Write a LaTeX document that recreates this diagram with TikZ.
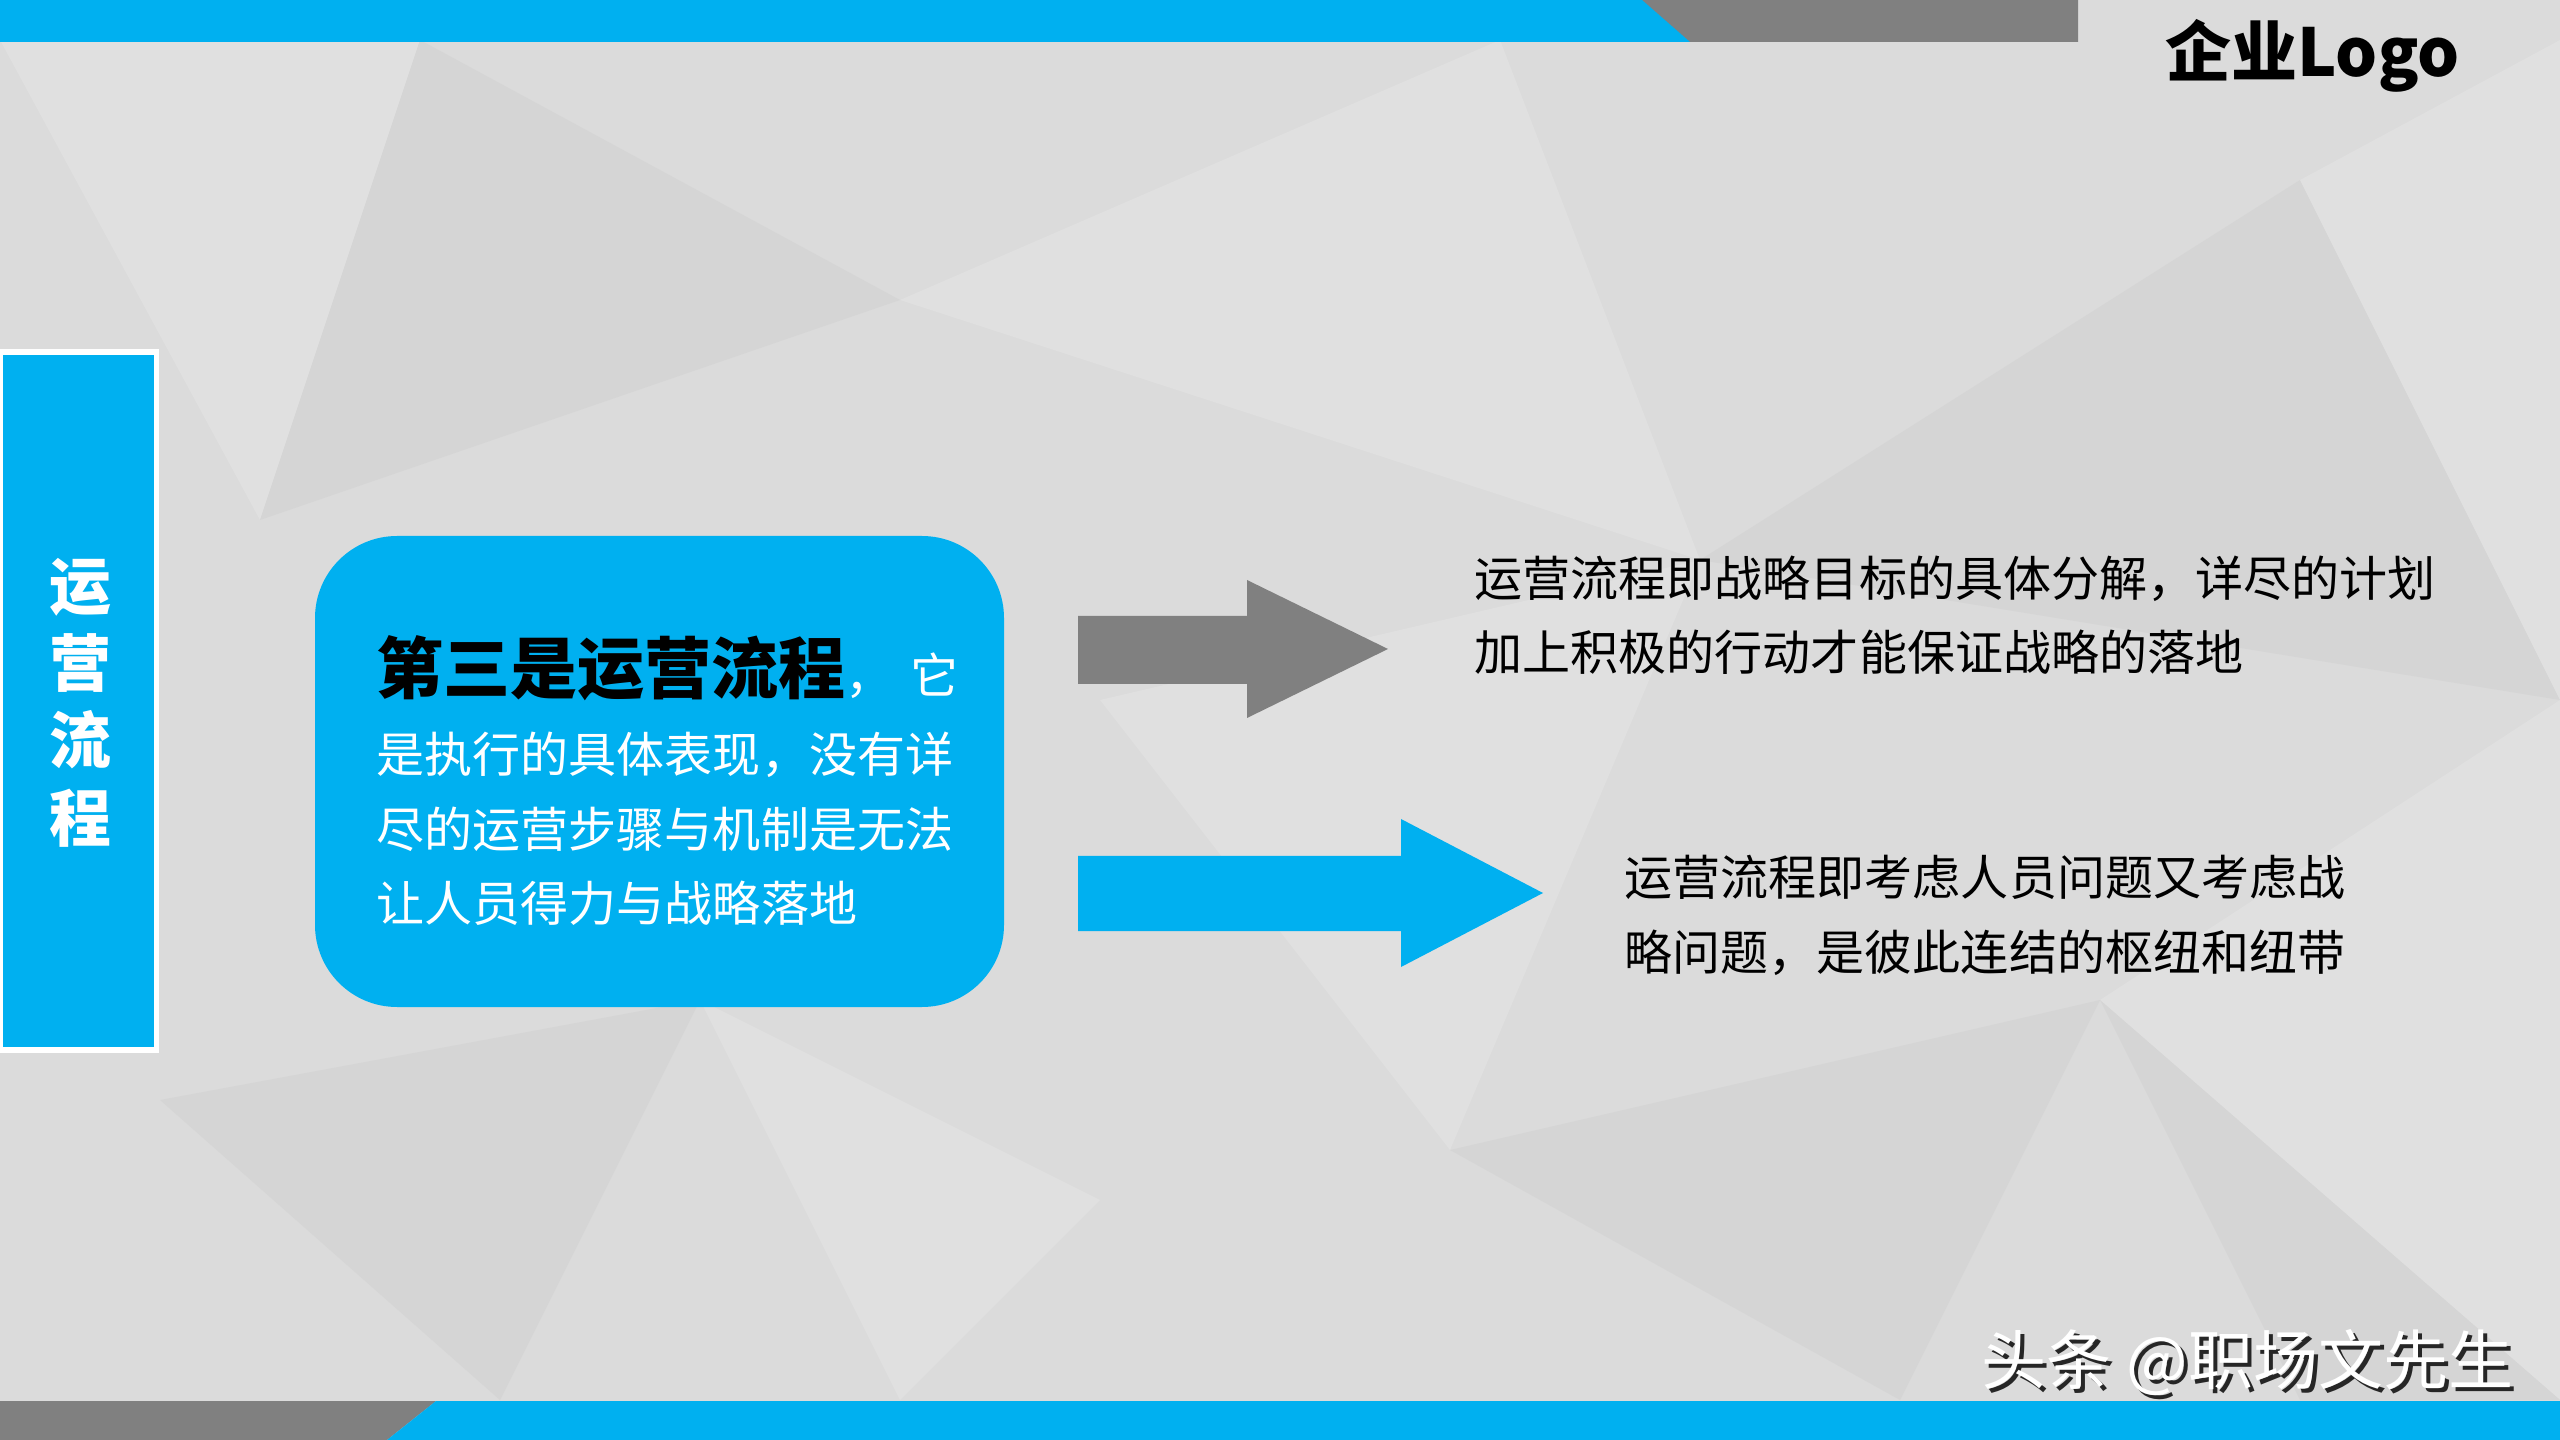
\documentclass[tikz,border=0pt]{standalone}
\usepackage{fontspec}
\setmainfont{Noto Sans CJK SC}
\definecolor{skyblue}{RGB}{0,176,240}
\definecolor{slate}{RGB}{128,128,128}
\definecolor{bgbase}{RGB}{219,219,219}
\definecolor{bglight}{RGB}{224,224,224}
\definecolor{bgdark}{RGB}{213,213,213}
\tikzset{
    facet/.style = {draw = none},
    bodytext/.style = {anchor = base west, inner sep = 0pt, align = left,
        font = \fontsize{13.66}{21.3}\selectfont},
}
\begin{document}
\begin{tikzpicture}[x = 0.01cm, y = -0.01cm]
    \useasboundingbox (0,0) rectangle (2560,1440);
    % background with faint facets
    \fill[bgbase] (0,0) rectangle (2560,1440);
    \begin{scope}[style = facet]
        \fill[bglight] (0,40) -- (420,40) -- (260,520) -- cycle;
        \fill[bgdark] (420,40) -- (900,300) -- (260,520) -- cycle;
        \fill[bglight] (900,300) -- (1500,40) -- (1700,560) -- cycle;
        \fill[bgdark] (1700,560) -- (2300,180) -- (2560,700) -- cycle;
        \fill[bglight] (2300,180) -- (2560,40) -- (2560,700) -- cycle;
        \fill[bglight] (1100,700) -- (1700,560) -- (1450,1150) -- cycle;
        \fill[bgdark] (1450,1150) -- (2100,1000) -- (1900,1400) -- cycle;
        \fill[bglight] (2100,1000) -- (2560,700) -- (2560,1400) -- cycle;
        \fill[bgdark] (160,1100) -- (700,1000) -- (500,1400) -- cycle;
        \fill[bglight] (700,1000) -- (1100,1200) -- (900,1400) -- cycle;
        \fill[bgdark] (2100,1000) -- (2560,1400) -- (2300,1400) -- cycle;
    \end{scope}
    % top and bottom bars
    \fill[slate] (1600,0) -- (2078,0) -- (2078,42) -- (1650,42) -- cycle;
    \fill[skyblue] (0,0) -- (1642,0) -- (1690,42) -- (0,42) -- cycle;
    \fill[slate] (0,1401) -- (436,1401) -- (387,1440) -- (0,1440) -- cycle;
    \fill[skyblue] (436,1401) -- (2560,1401) -- (2560,1440) -- (387,1440) -- cycle;
    % left title bar
    \fill[white] (0,349) rectangle (159,1053);
    \fill[skyblue] (3,355) rectangle (154,1047);
    \node (side) [anchor = base, inner sep = 0pt, align = center, text = white,
        font = \fontsize{17.6}{21.9}\selectfont\bfseries] at (80,841)
        {运\\营\\流\\程};
    % main box
    \fill[skyblue, rounded corners = 0.82cm] (315,536) rectangle (1004,1007);
    \node (head) [anchor = base west, inner sep = 0pt] at (376,694)
        {{\fontsize{19.06}{21.3}\selectfont\bfseries 第三是运营流程}{\fontsize{13.66}{21.3}\selectfont\color{white}，\hspace{0.35em}它}};
    \node (body) [style = bodytext, text = white] at (376,922)
        {是执行的具体表现，没有详\\尽的运营步骤与机制是无法\\让人员得力与战略落地};
    % arrows
    \fill[slate] (1078,616) -- (1247,616) -- (1247,580) -- (1388,649)
        -- (1247,718) -- (1247,684) -- (1078,684) -- cycle;
    \fill[skyblue] (1078,856) -- (1401,856) -- (1401,819) -- (1543,893)
        -- (1401,967) -- (1401,931) -- (1078,931) -- cycle;
    \node (first) [style = bodytext] at (1474,671)
        {运营流程即战略目标的具体分解，详尽的计划\\加上积极的行动才能保证战略的落地};
    \node (second) [style = bodytext] at (1624,970)
        {运营流程即考虑人员问题又考虑战\\略问题，是彼此连结的枢纽和纽带};
    % logo and watermark
    \node (logo) [anchor = base east, inner sep = 0pt,
        font = \fontsize{18.8}{20}\selectfont\bfseries] at (2460,77) {企业Logo};
    \node (shade) [anchor = base east, inner sep = 0pt, text = black!85,
        font = \fontsize{18.5}{20}\selectfont] at (2518,1388) {头条 @职场文先生};
    \node (mark) [anchor = base east, inner sep = 0pt, text = white,
        font = \fontsize{18.5}{20}\selectfont] at (2514,1384) {头条 @职场文先生};
\end{tikzpicture}
\end{document}
